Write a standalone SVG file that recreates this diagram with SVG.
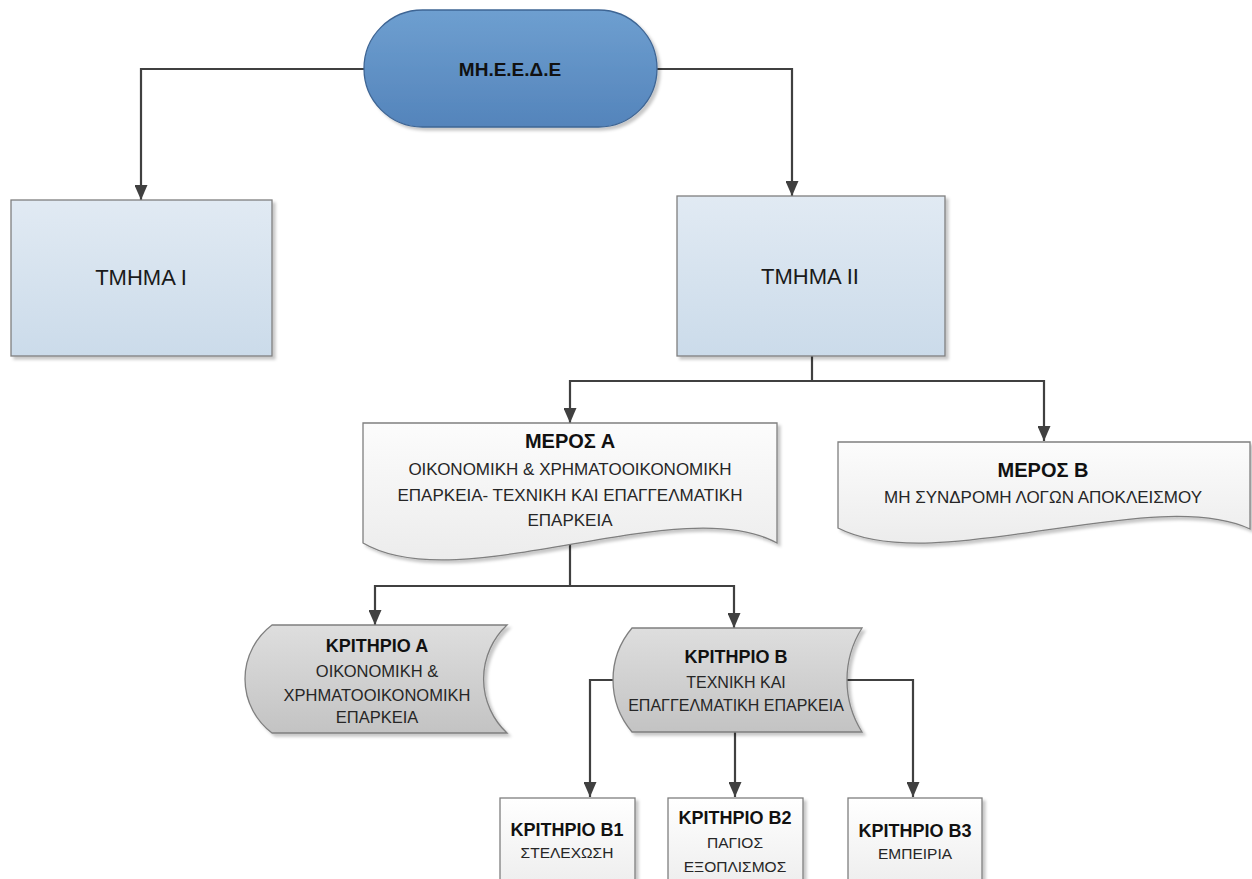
<svg xmlns="http://www.w3.org/2000/svg" width="1252" height="879" viewBox="0 0 1252 879">
<defs>
<linearGradient id="gPill" x1="0" y1="0" x2="0" y2="1"><stop offset="0" stop-color="#6e9fd0"/><stop offset="1" stop-color="#5484bb"/></linearGradient>
<linearGradient id="gBlue" x1="0" y1="0" x2="0" y2="1"><stop offset="0" stop-color="#e1eaf3"/><stop offset="1" stop-color="#cbdbea"/></linearGradient>
<linearGradient id="gDoc" x1="0" y1="0" x2="0" y2="1"><stop offset="0" stop-color="#fcfcfc"/><stop offset="1" stop-color="#ececec"/></linearGradient>
<linearGradient id="gGray" x1="0" y1="0" x2="0" y2="1"><stop offset="0" stop-color="#dedede"/><stop offset="1" stop-color="#c3c3c3"/></linearGradient>
<linearGradient id="gWhite" x1="0" y1="0" x2="0" y2="1"><stop offset="0" stop-color="#ffffff"/><stop offset="1" stop-color="#ededed"/></linearGradient>
<filter id="sh" x="-5%" y="-5%" width="115%" height="120%"><feDropShadow dx="3" dy="3" stdDeviation="1.5" flood-color="#000" flood-opacity="0.22"/></filter>
<marker id="arr" viewBox="0 0 15 13" refX="15" refY="6.5" markerWidth="15" markerHeight="13" markerUnits="userSpaceOnUse" orient="auto"><path d="M0,0 L15,6.5 L0,13 Z" fill="#404040"/></marker>
<style>
.node{stroke:#7f7f7f;stroke-width:1.3;filter:url(#sh)}
.t{font-family:"Liberation Sans",Arial,sans-serif;text-anchor:middle;fill:#262626}
.b{font-weight:bold;fill:#111}
.c{fill:none;stroke:#404040;stroke-width:2.2}
</style>
</defs>

<g id="connectors">
<path class="c" d="M364,69 H141 V200" marker-end="url(#arr)"/>
<path class="c" d="M657,69 H792 V196" marker-end="url(#arr)"/>
<path class="c" d="M812,356 V381"/>
<path class="c" d="M812,381 H570 V423" marker-end="url(#arr)"/>
<path class="c" d="M812,381 H1044 V441" marker-end="url(#arr)"/>
<path class="c" d="M570,544 V586"/>
<path class="c" d="M570,586 H375 V625" marker-end="url(#arr)"/>
<path class="c" d="M570,586 H734 V628" marker-end="url(#arr)"/>
<path class="c" d="M613,680 H590 V797" marker-end="url(#arr)"/>
<path class="c" d="M735,732 V797" marker-end="url(#arr)"/>
<path class="c" d="M847,680 H913 V797" marker-end="url(#arr)"/>
</g>

<g id="meede">
<rect class="node" x="364" y="10" width="293" height="117" rx="58.5" fill="url(#gPill)" style="stroke:#3e6594"/>
<text class="t b" x="510" y="76" font-size="19">ΜΗ.Ε.Ε.Δ.Ε</text>
</g>

<g id="tmima1">
<rect class="node" x="11" y="200" width="261" height="156" fill="url(#gBlue)"/>
<text class="t" x="141" y="285" font-size="22" style="fill:#1a1a1a">ΤΜΗΜΑ Ι</text>
</g>

<g id="tmima2">
<rect class="node" x="677" y="196" width="268" height="160" fill="url(#gBlue)"/>
<text class="t" x="810" y="284" font-size="22" style="fill:#1a1a1a">ΤΜΗΜΑ ΙΙ</text>
</g>

<g id="merosA">
<path class="node" d="M363,423 H777 V543 C680,490 460,600 363,543 Z" fill="url(#gDoc)"/>
<text class="t b" x="570" y="448" font-size="20">ΜΕΡΟΣ Α</text>
<text class="t" x="570" y="475" font-size="17">ΟΙΚΟΝΟΜΙΚΗ &amp; ΧΡΗΜΑΤΟΟΙΚΟΝΟΜΙΚΗ</text>
<text class="t" x="570" y="501" font-size="17">ΕΠΑΡΚΕΙΑ- ΤΕΧΝΙΚΗ ΚΑΙ ΕΠΑΓΓΕΛΜΑΤΙΚΗ</text>
<text class="t" x="570" y="526" font-size="17">ΕΠΑΡΚΕΙΑ</text>
</g>

<g id="merosB">
<path class="node" d="M838,442 H1250 V529 C1153,484 935,578 838,528 Z" fill="url(#gDoc)"/>
<text class="t b" x="1043" y="477" font-size="20">ΜΕΡΟΣ Β</text>
<text class="t" x="1043" y="503" font-size="17">ΜΗ ΣΥΝΔΡΟΜΗ ΛΟΓΩΝ ΑΠΟΚΛΕΙΣΜΟΥ</text>
</g>

<g id="kritirioA">
<path class="node" d="M272,625 H507 A74,74 0 0 0 507,733 H272 A67.5,67.5 0 0 1 272,625 Z" fill="url(#gGray)"/>
<text class="t b" x="377" y="652" font-size="18">ΚΡΙΤΗΡΙΟ Α</text>
<text class="t" x="377" y="677" font-size="16.5">ΟΙΚΟΝΟΜΙΚΗ &amp;</text>
<text class="t" x="377" y="701" font-size="16.5">ΧΡΗΜΑΤΟΟΙΚΟΝΟΜΙΚΗ</text>
<text class="t" x="377" y="723" font-size="16.5">ΕΠΑΡΚΕΙΑ</text>
</g>

<g id="kritirioB">
<path class="node" d="M632,628 H862 A97.6,97.6 0 0 0 862,732 H632 A80.7,80.7 0 0 1 632,628 Z" fill="url(#gGray)"/>
<text class="t b" x="736" y="663" font-size="18">ΚΡΙΤΗΡΙΟ Β</text>
<text class="t" x="736" y="688" font-size="16">ΤΕΧΝΙΚΗ ΚΑΙ</text>
<text class="t" x="736" y="711" font-size="16">ΕΠΑΓΓΕΛΜΑΤΙΚΗ ΕΠΑΡΚΕΙΑ</text>
</g>

<g id="kritirioB1">
<rect class="node" x="500" y="798" width="135" height="90" fill="url(#gWhite)"/>
<text class="t b" x="567" y="836" font-size="18">ΚΡΙΤΗΡΙΟ Β1</text>
<text class="t" x="567" y="858" font-size="15.5">ΣΤΕΛΕΧΩΣΗ</text>
</g>

<g id="kritirioB2">
<rect class="node" x="668" y="798" width="135" height="90" fill="url(#gWhite)"/>
<text class="t b" x="735" y="824" font-size="18">ΚΡΙΤΗΡΙΟ Β2</text>
<text class="t" x="735" y="848" font-size="15.5">ΠΑΓΙΟΣ</text>
<text class="t" x="735" y="872" font-size="15.5">ΕΞΟΠΛΙΣΜΟΣ</text>
</g>

<g id="kritirioB3">
<rect class="node" x="848" y="798" width="134" height="90" fill="url(#gWhite)"/>
<text class="t b" x="915" y="837" font-size="18">ΚΡΙΤΗΡΙΟ Β3</text>
<text class="t" x="915" y="859" font-size="15.5">ΕΜΠΕΙΡΙΑ</text>
</g>
</svg>
